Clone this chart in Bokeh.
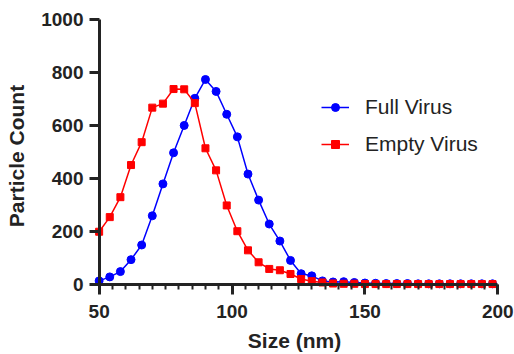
from bokeh.plotting import figure
from bokeh.models import Range1d, FixedTicker, Legend, LegendItem, LinearAxis
from bokeh.embed import file_html
from bokeh.resources import INLINE

size_nm = [50, 54, 58, 62, 66, 70, 74, 78, 82, 86, 90, 94, 98, 102, 106, 110, 114, 118, 122,
           126, 130, 134, 138, 142, 146, 150, 154, 158, 162, 166, 170, 174, 178, 182, 186, 190, 194, 198]
full_virus = [15, 30, 50, 95, 150, 260, 380, 497, 600, 702, 773, 728, 642, 557, 417, 319, 229, 165, 92,
              42, 34, 15, 11, 12, 9, 7, 6, 5, 5, 5, 4, 4, 4, 4, 4, 4, 4, 4]
empty_virus = [200, 255, 330, 451, 537, 667, 682, 737, 736, 684, 514, 431, 299, 202, 130, 85, 60, 55, 41,
               22, 14, 9, 5, 4, 4, 3, 3, 3, 3, 3, 3, 3, 3, 3, 3, 3, 3, 3]
x_major = [50, 100, 150, 200]
x_minor = list(range(50, 201, 5))
y_major = [0, 200, 400, 600, 800, 1000]

FONT = "Liberation Sans"
AX = "#232323"

p = figure(width=514, height=354, output_backend="svg", toolbar_location=None,
           x_range=Range1d(46, 201), y_range=Range1d(-40, 1010),
           min_border_left=88, min_border_right=14, min_border_top=16, min_border_bottom=58)
p.outline_line_color = None
p.grid.visible = False
p.background_fill_color = None
p.border_fill_color = "white"

# label-only axes in the panels
for ax in (p.xaxis[0], p.yaxis[0]):
    ax.axis_line_color = None
    ax.major_tick_line_color = None
    ax.minor_tick_line_color = None
    ax.major_tick_out = 0
    ax.major_tick_in = 0
    ax.minor_tick_out = 0
    ax.minor_tick_in = 0
    ax.major_label_text_font = FONT
    ax.major_label_text_font_style = "bold"
    ax.major_label_text_font_size = "19px"
    ax.major_label_text_color = AX
    ax.axis_label_text_font = FONT
    ax.axis_label_text_font_style = "bold"
    ax.axis_label_text_font_size = "21px"
    ax.axis_label_text_color = AX

p.xaxis[0].ticker = FixedTicker(ticks=x_major, minor_ticks=[])
p.xaxis[0].axis_label = "Size (nm)"
p.xaxis[0].major_label_standoff = 9
p.xaxis[0].axis_label_standoff = 8

p.yaxis[0].ticker = FixedTicker(ticks=y_major, minor_ticks=[])
p.yaxis[0].axis_label = "Particle Count"
p.yaxis[0].major_label_standoff = 5
p.yaxis[0].axis_label_standoff = 10

# line-and-tick axes drawn at x=50 and y=0, ticks pointing outward
def line_axis(ticker, bounds, loc):
    a = LinearAxis(ticker=ticker, bounds=bounds, fixed_location=loc)
    a.axis_line_color = AX
    a.axis_line_width = 3
    a.major_tick_line_color = AX
    a.major_tick_line_width = 3
    a.major_tick_in = 10
    a.major_tick_out = 0
    a.minor_tick_line_color = AX
    a.minor_tick_line_width = 2
    a.minor_tick_in = 5
    a.minor_tick_out = 0
    a.major_label_text_font_size = "0px"
    a.major_label_text_alpha = 0
    a.major_label_standoff = 0
    return a

p.add_layout(line_axis(FixedTicker(ticks=x_major, minor_ticks=x_minor), (50, 200), 0), "above")
p.add_layout(line_axis(FixedTicker(ticks=y_major, minor_ticks=[]), (0, 1000), 50), "right")

l1 = p.line(size_nm, full_virus, line_color="#0000ff", line_width=1.5)
s1 = p.scatter(size_nm, full_virus, marker="circle", size=8, fill_color="#0000ff", line_color="#0000ff")
l2 = p.line(size_nm, empty_virus, line_color="#ff0000", line_width=1.5)
s2 = p.scatter(size_nm, empty_virus, marker="square", size=7, fill_color="#ff0000", line_color="#ff0000")

legend = Legend(items=[LegendItem(label="Full Virus", renderers=[l1, s1]),
                       LegendItem(label="Empty Virus", renderers=[l2, s2])],
                location=(233, 139), padding=0, spacing=13, margin=0,
                glyph_width=28, glyph_height=20, label_height=20, label_standoff=16,
                label_text_font=FONT, label_text_font_size="21px", label_text_color=AX,
                background_fill_alpha=0, border_line_color=None)
p.add_layout(legend, "center")

open("out.html", "w").write(file_html(p, INLINE))
